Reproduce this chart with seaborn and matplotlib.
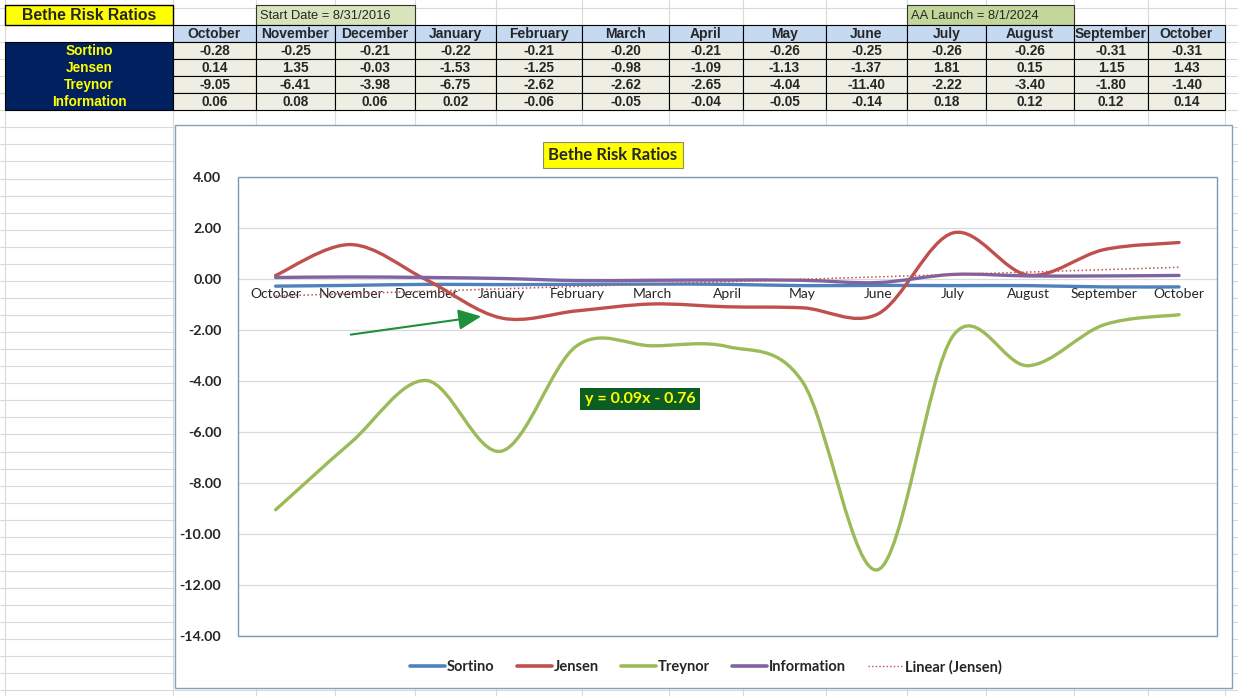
import numpy as np
import pandas as pd
import matplotlib
matplotlib.use("Agg")
import matplotlib.pyplot as plt
import seaborn as sns
from matplotlib.path import Path
from matplotlib.patches import PathPatch, Rectangle
from matplotlib.lines import Line2D
from matplotlib import font_manager

# ---- data ----
months = ["October", "November", "December", "January", "February", "March", "April",
          "May", "June", "July", "August", "September", "October"]
sortino = [-0.28, -0.25, -0.21, -0.22, -0.21, -0.20, -0.21, -0.26, -0.25, -0.26, -0.26, -0.31, -0.31]
jensen = [0.14, 1.35, -0.03, -1.53, -1.25, -0.98, -1.09, -1.13, -1.37, 1.81, 0.15, 1.15, 1.43]
treynor = [-9.05, -6.41, -3.98, -6.75, -2.62, -2.62, -2.65, -4.04, -11.40, -2.22, -3.40, -1.80, -1.40]
information = [0.06, 0.08, 0.06, 0.02, -0.06, -0.05, -0.04, -0.05, -0.14, 0.18, 0.12, 0.12, 0.14]
row_names = ["Sortino", "Jensen", "Treynor", "Information"]
sheet_title = "Bethe Risk Ratios"
start_note = "Start Date = 8/31/2016"
launch_note = "AA Launch = 8/1/2024"
trend_label = "y = 0.09x - 0.76"
chart_title = "Bethe Risk Ratios"

colors = {"Sortino": "#4f81bd", "Jensen": "#c0504d", "Treynor": "#9bbb59", "Information": "#8064a2"}

W, H = 1238, 696

sns.set_style("white")
installed = {f.name for f in font_manager.fontManager.ttflist}
chart_font = "Lato" if "Lato" in installed else "DejaVu Sans"
table_font = "Liberation Sans" if "Liberation Sans" in installed else "DejaVu Sans"
plt.rcParams["font.family"] = [chart_font, "DejaVu Sans"]
plt.rcParams["axes.unicode_minus"] = False


def fx(x):
    return x / W


def fy(y):
    return 1 - y / H


def smooth_path(xs, ys):
    # Excel-style smoothed line: cubic bezier segments through the data points
    pts = np.column_stack([xs, ys]).astype(float)
    n = len(pts)
    verts = [pts[0]]
    codes = [Path.MOVETO]
    for i in range(n - 1):
        p0 = pts[max(i - 1, 0)]
        p1 = pts[i]
        p2 = pts[i + 1]
        p3 = pts[min(i + 2, n - 1)]
        verts += [p1 + (p2 - p0) / 6, p2 - (p3 - p1) / 6, p2]
        codes += [Path.CURVE4] * 3
    return Path(verts, codes)


fig = plt.figure(figsize=(W / 100, H / 100), dpi=100)

# ---- spreadsheet background ----
bg = fig.add_axes([0, 0, 1, 1], zorder=0)
bg.set_xlim(0, W)
bg.set_ylim(H, 0)
bg.axis("off")

col_edges = [5, 173, 256, 335, 415, 496, 582, 669, 743, 826, 907, 986, 1074, 1148, 1225]
row_h = 17.06
header_top = 25.0
grid_c = "#d9d9d9"
for x in col_edges:
    bg.plot([x, x], [0, H], color=grid_c, lw=0.8, zorder=0)
y = header_top - row_h
while y < H:
    bg.plot([0, W], [y, y], color=grid_c, lw=0.8, zorder=0)
    y += row_h

# title cells on top row
bg.add_patch(Rectangle((5, 5), 168, 20, facecolor="#ffff00", edgecolor="black", lw=1, zorder=2))
bg.text(89, 15.5, sheet_title, ha="center", va="center", fontsize=11.3, fontweight="bold",
        family=table_font, zorder=3)
bg.add_patch(Rectangle((256, 5), 159, 20, facecolor="#d8e4bc", edgecolor="#333333", lw=0.8, zorder=2))
bg.text(260, 16, start_note, ha="left", va="center", fontsize=9.3, family=table_font, zorder=3)
bg.add_patch(Rectangle((907, 5), 167, 20, facecolor="#c4d79b", edgecolor="#333333", lw=0.8, zorder=2))
bg.text(911, 16, launch_note, ha="left", va="center", fontsize=9.3, family=table_font, zorder=3)

# header row
for j, m in enumerate(months):
    x0, x1 = col_edges[j + 1], col_edges[j + 2]
    bg.add_patch(Rectangle((x0, header_top), x1 - x0, row_h, facecolor="#c5d9f1",
                           edgecolor="black", lw=0.8, zorder=2))
    bg.text((x0 + x1) / 2, header_top + row_h / 2 + 0.5, m, ha="center", va="center",
            fontsize=10, fontweight="bold", family=table_font, zorder=3)

# data rows
table_rows = [sortino, jensen, treynor, information]
bg.add_patch(Rectangle((5, header_top + row_h), 168, 4 * row_h, facecolor="#002060",
                       edgecolor="black", lw=0.8, zorder=2))
for i, (name, vals) in enumerate(zip(row_names, table_rows)):
    yc = header_top + row_h * (i + 1.5) + 0.5
    bg.text(89, yc, name, ha="center", va="center", fontsize=9.8, fontweight="bold",
            color="#ffff00", family=table_font, zorder=3)
    for j, v in enumerate(vals):
        x0, x1 = col_edges[j + 1], col_edges[j + 2]
        bg.add_patch(Rectangle((x0, header_top + row_h * (i + 1)), x1 - x0, row_h,
                               facecolor="#eeefe2", edgecolor="black", lw=0.8, zorder=2))
        bg.text((x0 + x1) / 2, yc, f"{v:.2f}", ha="center", va="center", fontsize=9.8,
                fontweight="bold", family=table_font, zorder=3)

# chart container
bg.add_patch(Rectangle((174.5, 125), 1057, 563, facecolor="white", edgecolor="#8aa0b5",
                       lw=1.0, zorder=4))

# ---- chart ----
ax = fig.add_axes([fx(238), fy(636), fx(1216.7) - fx(238), fy(177) - fy(636)], zorder=2)
ax.set_facecolor("white")

idx = np.arange(len(months))
series = [("Sortino", sortino), ("Jensen", jensen), ("Treynor", treynor), ("Information", information)]
for name, vals in series:
    ax.add_patch(PathPatch(smooth_path(idx, vals), fill=False, edgecolor=colors[name],
                           lw=2.4, capstyle="round", joinstyle="round", zorder=3))

df = pd.DataFrame({"idx": idx, "jensen": jensen})
sns.regplot(data=df, x="idx", y="jensen", scatter=False, ci=None, ax=ax,
            line_kws=dict(color="#c0504d", lw=1.1, ls=(0, (1, 1.6)), zorder=4))

ax.set_xlim(-0.5, len(months) - 0.5)
ax.set_ylim(-14, 4)
ax.set_xlabel("")
ax.set_ylabel("")

ax.set_yticks(np.arange(-14, 4.01, 2))
ax.set_yticklabels([f"{t:.2f}" for t in np.arange(-14, 4.01, 2)], fontsize=10.3, fontweight="bold")
ax.tick_params(axis="y", length=0, pad=12)

ax.set_xticks(idx)
ax.set_xticklabels(months, fontsize=7.8, fontweight="bold")
ax.tick_params(axis="x", length=0, pad=6.5)

for s in ax.spines.values():
    s.set_visible(False)
ax.spines["bottom"].set_visible(True)
ax.spines["bottom"].set_position(("data", 0))
ax.spines["bottom"].set_color("none")

ax.yaxis.grid(True, color="#d9d9d9", lw=0.9)
ax.xaxis.grid(False)
ax.set_axisbelow(True)
ax.add_patch(Rectangle((0, 0), 1, 1, transform=ax.transAxes, fill=False, edgecolor="#7f98b0",
                       lw=1.0, clip_on=False, zorder=6))

# title box above plot area
fig.text(fx(613), fy(155), chart_title, ha="center", va="center", fontsize=12, fontweight="bold",
         bbox=dict(boxstyle="square,pad=0.3", facecolor="#ffff00", edgecolor="#8c8c6a", lw=0.8),
         zorder=10)

# trendline equation label
fig.text(fx(640), fy(399), trend_label, ha="center", va="center", fontsize=11.5, fontweight="bold",
         color="#ffff00", bbox=dict(boxstyle="square,pad=0.28", facecolor="#0b5d24", edgecolor="none"),
         zorder=10)

# green arrow
ax.annotate("", xy=(484, H - 316), xytext=(348, H - 335), xycoords="figure pixels",
            textcoords="figure pixels",
            arrowprops=dict(arrowstyle="-|>,head_length=1.0,head_width=0.45", color="#1f8f3a",
                            lw=1.5, mutation_scale=14), zorder=10)

# legend
handles = [Line2D([], [], color=colors[n], lw=2.6) for n in row_names]
handles.append(Line2D([], [], color="#c0504d", lw=1.0, ls=(0, (1, 1.6))))
labels = row_names + ["Linear (Jensen)"]
fig.legend(handles, labels, loc="center", bbox_to_anchor=(fx(706), fy(667)), ncol=5,
           frameon=False, handlelength=2.4, handletextpad=0.15, columnspacing=1.5,
           prop=dict(family=chart_font, weight="bold", size=10.5))

fig.savefig("out.png", dpi=100)
